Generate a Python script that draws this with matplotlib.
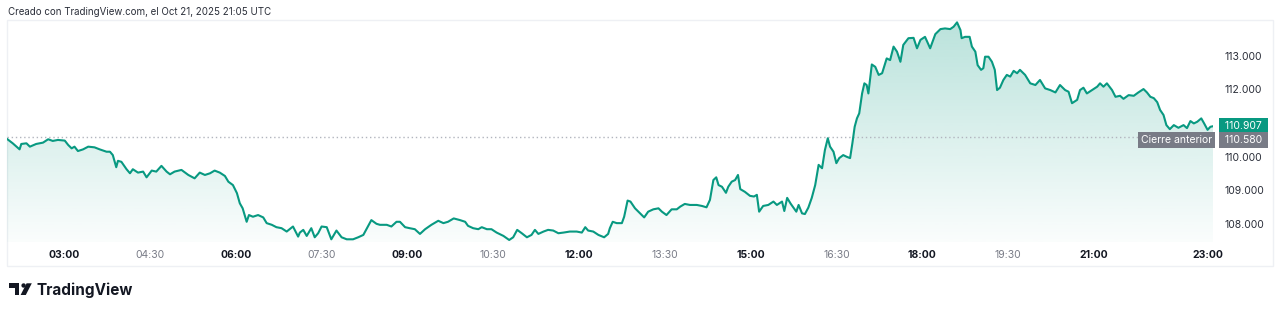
import numpy as np
import matplotlib.pyplot as plt
from matplotlib.patches import Rectangle, Circle, Polygon
from matplotlib.colors import to_rgb

plt.rcParams['font.family'] = ['Inter', 'DejaVu Sans']

# intraday series (hour of day, price)
hours = [2.00, 2.10, 2.22, 2.25, 2.34, 2.40, 2.51, 2.63, 2.72, 2.80,
         2.89, 3.01, 3.07, 3.13, 3.18, 3.24, 3.33, 3.42, 3.53, 3.62,
         3.74, 3.80, 3.85, 3.91, 3.94, 4.00, 4.09, 4.15, 4.20, 4.29,
         4.38, 4.44, 4.53, 4.61, 4.70, 4.79, 4.85, 4.93, 5.05, 5.17,
         5.28, 5.37, 5.46, 5.55, 5.63, 5.72, 5.81, 5.87, 5.95, 6.02,
         6.07, 6.12, 6.19, 6.23, 6.30, 6.39, 6.48, 6.54, 6.63, 6.71,
         6.80, 6.89, 7.00, 7.09,
         7.12, 7.18, 7.24, 7.32, 7.38, 7.44, 7.50, 7.59, 7.67, 7.76,
         7.85, 7.94, 8.05, 8.14, 8.23, 8.31, 8.37, 8.46, 8.52, 8.64,
         8.72, 8.81, 8.87, 8.96, 9.04, 9.13, 9.22, 9.31, 9.42, 9.54,
         9.63, 9.71, 9.81, 9.92, 10.01, 10.06, 10.15, 10.24, 10.30, 10.39,
         10.47, 10.56, 10.68, 10.78, 10.85, 10.92, 11.00, 11.09, 11.17, 11.23,
         11.29, 11.38, 11.46, 11.55, 11.64, 11.73, 11.84, 11.96, 12.05, 12.11,
         12.16, 12.25, 12.34, 12.44, 12.51,
         12.54, 12.59, 12.66, 12.75, 12.79, 12.85, 12.90, 12.98, 13.07, 13.14,
         13.21, 13.30, 13.39, 13.45, 13.53, 13.62, 13.71, 13.77, 13.85, 13.94,
         14.06, 14.15, 14.23, 14.29, 14.35, 14.40, 14.44, 14.50, 14.57, 14.61,
         14.67, 14.73, 14.78, 14.82, 14.90, 14.99, 15.06, 15.11, 15.15, 15.22,
         15.31, 15.40, 15.46, 15.55, 15.59, 15.64, 15.70, 15.75, 15.80, 15.84,
         15.90, 15.95, 16.01, 16.07, 16.13, 16.19, 16.25, 16.30, 16.35, 16.39,
         16.45, 16.50, 16.55, 16.62, 16.68, 16.74,
         16.78, 16.82, 16.86, 16.90, 16.95, 16.99, 17.03, 17.06, 17.12, 17.18,
         17.24, 17.30, 17.38, 17.44, 17.50, 17.56, 17.62, 17.67, 17.76, 17.85,
         17.91, 17.97, 18.05, 18.14, 18.23, 18.32, 18.40, 18.49, 18.55, 18.61,
         18.67, 18.69, 18.75, 18.83, 18.87, 18.93, 18.97, 19.03, 19.07, 19.10,
         19.16, 19.22, 19.27, 19.31, 19.36, 19.42, 19.48, 19.54, 19.60, 19.66,
         19.71, 19.80, 19.89, 19.98, 20.06, 20.15, 20.24, 20.33, 20.41, 20.50,
         20.56, 20.62, 20.71, 20.76, 20.82, 20.88, 20.97, 21.06, 21.11, 21.17,
         21.23, 21.32, 21.38, 21.46, 21.52, 21.61, 21.70, 21.78, 21.87, 21.93,
         21.99, 22.05, 22.11, 22.16, 22.22, 22.27, 22.33, 22.40, 22.48, 22.57,
         22.63, 22.69, 22.75, 22.81, 22.88, 22.93, 22.99, 23.04, 23.085]

prices = [110.53, 110.40, 110.22, 110.38, 110.40, 110.30, 110.38, 110.42, 110.52, 110.47,
          110.50, 110.48, 110.35, 110.25, 110.30, 110.17, 110.22, 110.30, 110.28, 110.22,
          110.15, 110.15, 110.05, 109.69, 109.88, 109.85, 109.63, 109.51, 109.63, 109.53,
          109.56, 109.39, 109.59, 109.56, 109.73, 109.56, 109.48, 109.56, 109.61, 109.46,
          109.36, 109.53, 109.46, 109.51, 109.59, 109.53, 109.43, 109.26, 109.16, 108.92,
          108.62, 108.47, 108.07, 108.27, 108.22, 108.27, 108.20, 108.03, 107.98, 107.91,
          107.88, 107.78, 107.93, 107.63,
          107.75, 107.83, 107.65, 107.88, 107.61, 107.73, 107.93, 107.91, 107.55, 107.81,
          107.61, 107.55, 107.55, 107.61, 107.68, 107.93, 108.12, 108.01, 107.98, 107.98,
          107.93, 108.07, 108.07, 107.91, 107.88, 107.85, 107.71, 107.85, 107.98, 108.10,
          108.03, 108.07, 108.17, 108.12, 108.07, 107.95, 107.88, 107.85, 107.91, 107.85,
          107.85, 107.75, 107.65, 107.53, 107.61, 107.83, 107.73, 107.61, 107.68, 107.83,
          107.71, 107.78, 107.83, 107.81, 107.73, 107.75, 107.78, 107.78, 107.75, 107.91,
          107.81, 107.78, 107.68, 107.61, 107.71,
          107.88, 108.07, 108.03, 108.03, 108.22, 108.70, 108.67, 108.47, 108.32, 108.20,
          108.37, 108.44, 108.47, 108.37, 108.27, 108.44, 108.44, 108.52, 108.60, 108.57,
          108.57, 108.54, 108.50, 108.72, 109.31, 109.39, 109.16, 109.11, 108.93, 109.11,
          109.26, 109.31, 109.46, 109.04, 108.96, 108.84, 108.82, 108.87, 108.37, 108.54,
          108.57, 108.67, 108.57, 108.67, 108.39, 108.78, 108.61, 108.49, 108.37, 108.57,
          108.32, 108.30, 108.49, 108.78, 109.16, 109.76, 109.66, 110.20, 110.55, 110.30,
          110.15, 109.81, 109.96, 110.05, 110.00, 109.96,
          110.40, 110.89, 111.14, 111.29, 111.88, 112.18, 112.13, 111.88, 112.74, 112.67,
          112.43, 112.48, 112.92, 112.87, 113.27, 113.12, 112.82, 113.32, 113.52, 113.53,
          113.22, 113.47, 113.56, 113.22, 113.64, 113.79, 113.81, 113.79, 113.86, 113.99,
          113.76, 113.52, 113.56, 113.56, 113.27, 113.12, 112.72, 112.58, 112.63, 112.97,
          112.97, 112.82, 112.58, 111.98, 112.05, 112.28, 112.43, 112.38, 112.55, 112.48,
          112.58, 112.43, 112.18, 112.13, 112.28, 112.03, 111.98, 111.91, 112.13, 111.98,
          111.93, 111.59, 111.69, 111.98, 112.05, 111.88, 111.98, 112.08, 112.18, 112.08,
          112.18, 111.98, 111.78, 111.81, 111.72, 111.83, 111.81, 111.91, 112.01, 111.91,
          111.78, 111.74, 111.62, 111.39, 111.24, 110.94, 110.82, 110.94, 110.86, 110.94,
          110.85, 111.06, 110.99, 111.04, 111.14, 110.99, 110.80, 110.89, 110.907]

prev_close = 110.580
last_price = 110.907

time_ticks = [3, 4.5, 6, 7.5, 9, 10.5, 12, 13.5, 15, 16.5, 18, 19.5, 21, 23]
time_labels = ['03:00', '04:30', '06:00', '07:30', '09:00', '10:30', '12:00',
               '13:30', '15:00', '16:30', '18:00', '19:30', '21:00', '23:00']
bold_labels = ['03:00', '06:00', '09:00', '12:00', '15:00', '18:00', '21:00', '23:00']
price_ticks = [108, 109, 110, 112, 113]

teal = '#089981'
W, H = 1280, 312
fig = plt.figure(figsize=(W / 100, H / 100), dpi=100)

# overlay in pixel coords for the frame, header and logo
ov = fig.add_axes([0, 0, 1, 1], zorder=0)
ov.set_xlim(0, W)
ov.set_ylim(H, 0)
ov.axis('off')
ov.add_patch(Rectangle((7, 20), 1265.5, 245.5, fill=False, ec='#eef0f4', lw=1))
ov.text(8, 12, 'Creado con TradingView.com, el Oct 21, 2025 21:05 UTC',
        fontsize=7.0, color='#2a2e39', va='center', ha='left')

# TradingView logo (rough shapes)
logo = '#131722'
ov.add_patch(Rectangle((9.3, 283.3), 10.0, 4.2, color=logo, lw=0))
ov.add_patch(Rectangle((14.6, 283.3), 4.7, 11.7, color=logo, lw=0))
ov.add_patch(Circle((23.6, 285.5), 2.2, color=logo, lw=0))
ov.add_patch(Polygon([(26.6, 283.3), (31.8, 283.3), (25.8, 295), (20.6, 295)], color=logo, lw=0))
ov.text(36.5, 295, 'TradingView', fontsize=11, fontweight='bold', color=logo,
        va='baseline', ha='left')

# main chart
ax = fig.add_axes([7 / W, (H - 242) / H, (1213 - 7) / W, (242 - 20) / H], zorder=1)
ax.patch.set_alpha(0)
ylo, yhi = 107.47, 114.06

grad = np.zeros((256, 1, 4))
grad[..., :3] = to_rgb(teal)
grad[:, 0, 3] = np.linspace(0.28, 0.02, 256)
img = ax.imshow(grad, aspect='auto', origin='upper',
                extent=[hours[0], hours[-1], ylo, max(prices)], zorder=1)
area = ax.fill_between(hours, prices, ylo, facecolor='none', edgecolor='none')
img.set_clip_path(area.get_paths()[0], transform=ax.transData)

ax.plot(hours, prices, color=teal, lw=1.5, zorder=3, solid_joinstyle='round')
ax.axhline(prev_close, color='#b2b5be', lw=1, ls=(0, (1, 2)), zorder=2)

ax.set_xlim(hours[0], hours[-1])
ax.set_ylim(ylo, yhi)
for s in ax.spines.values():
    s.set_visible(False)

ax.set_xticks(time_ticks, time_labels)
ax.tick_params(axis='x', length=0, pad=6, labelsize=7.5)
for lbl in ax.get_xticklabels():
    if lbl.get_text() in bold_labels:
        lbl.set_fontweight('bold')
        lbl.set_color('#131722')
    else:
        lbl.set_color('#787b86')

ax.yaxis.tick_right()
ax.set_yticks(price_ticks, [f'{p:.3f}' for p in price_ticks])
ax.tick_params(axis='y', length=0, pad=8.5, labelsize=7.5, labelcolor='#2a2e39')

# price badges
ax.annotate(f' {last_price:.3f} ', xy=(1, last_price), xycoords=('axes fraction', 'data'),
            xytext=(9, 0), textcoords='offset pixels', ha='left', va='center',
            fontsize=7.5, color='white', annotation_clip=False,
            bbox=dict(boxstyle='square,pad=0.3', fc=teal, ec='none'))
ax.annotate(f' {prev_close:.3f} ', xy=(1, prev_close), xycoords=('axes fraction', 'data'),
            xytext=(9, -3), textcoords='offset pixels', ha='left', va='center',
            fontsize=7.5, color='white', annotation_clip=False,
            bbox=dict(boxstyle='square,pad=0.3', fc='#787b86', ec='none'))
ax.annotate('Cierre anterior', xy=(1, prev_close), xycoords=('axes fraction', 'data'),
            xytext=(-1, -3), textcoords='offset pixels', ha='right', va='center',
            fontsize=7.5, color='white', annotation_clip=False,
            bbox=dict(boxstyle='square,pad=0.3', fc='#787b86', ec='none'))

fig.savefig('out.png', dpi=100, facecolor='white')
